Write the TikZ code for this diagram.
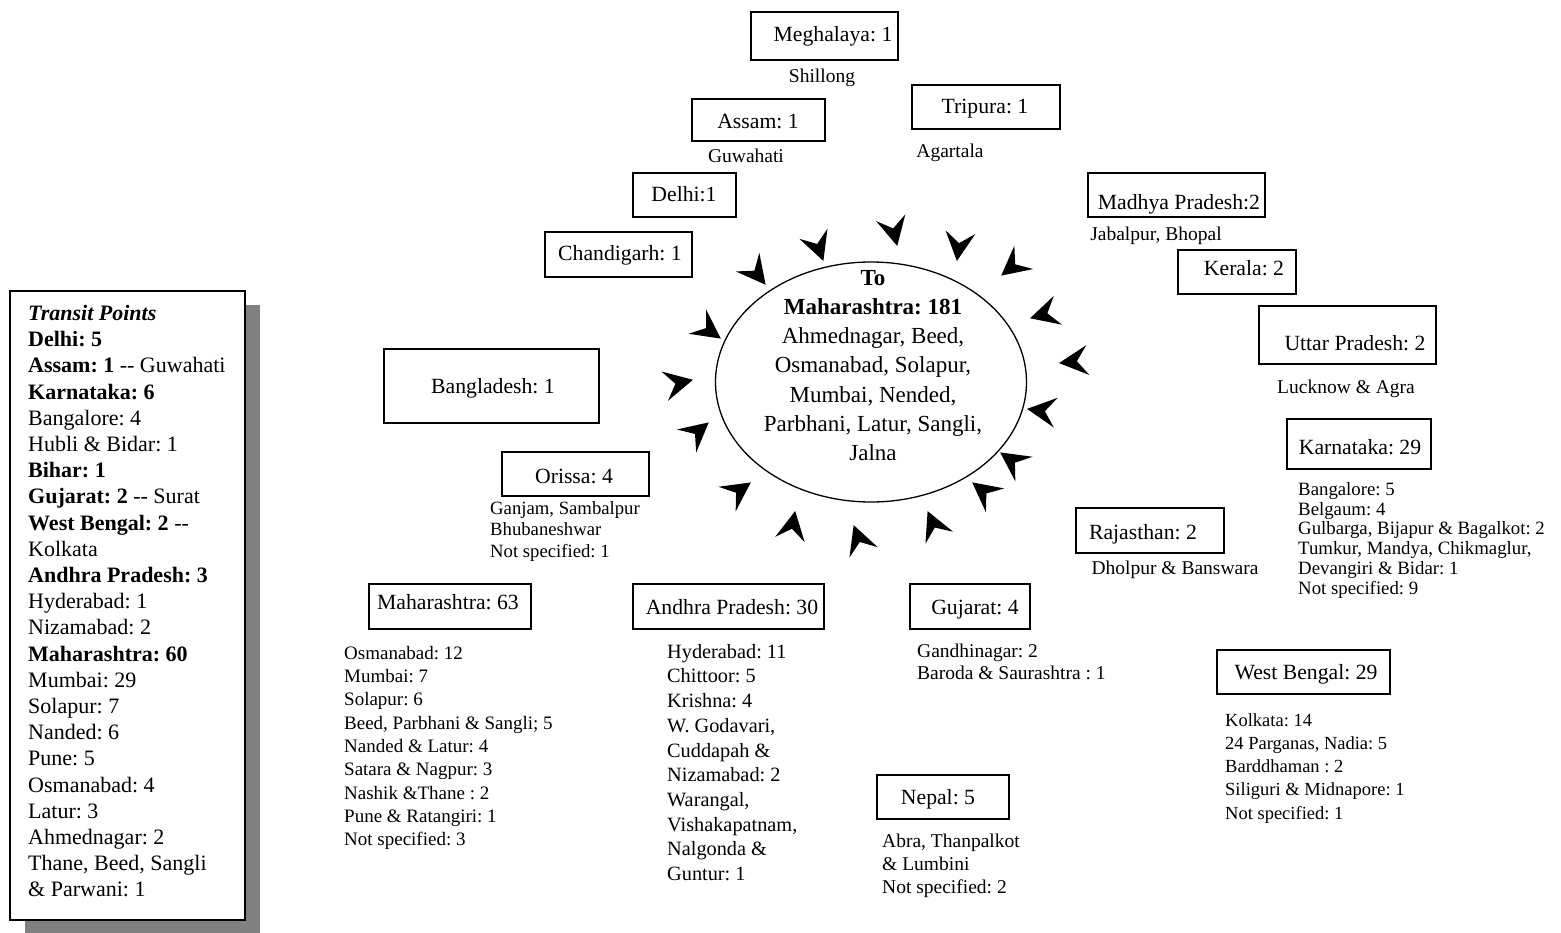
\documentclass[tikz,border=0pt]{standalone}
\usepackage{fontspec}
\setmainfont{Liberation Serif}
\usetikzlibrary{shapes.geometric}
\frenchspacing
\begin{document}
\begin{tikzpicture}[x=1pt,y=-1pt,
  box/.style={draw, line width=1.3pt, rectangle, inner sep=0pt},
  btxt/.style={font=\fontsize{21.7}{26}\selectfont, inner sep=0pt, anchor=base},
  stxt/.style={font=\fontsize{19.5}{23}\selectfont, inner sep=0pt, anchor=base},
  lst/.style={align=left, inner sep=0pt, anchor=north west},
  pics/arrowhd/.style={code={\fill (1pt,0pt) -- (-28pt,15pt) -- (-17pt,0pt) -- (-28pt,-15pt) -- cycle;}}
]
\useasboundingbox (0,0) rectangle (1561,933);

% legend
\node[fill=black!50, minimum width=235pt, minimum height=629pt, inner sep=0pt] (legshadow) at (142.5,619.5) {};
\node[draw, fill=white, line width=1.6pt, minimum width=235pt, minimum height=629pt, inner sep=0pt] (legend) at (127.5,605.5) {};
\node[lst, font=\fontsize{22}{26.2}\selectfont] (legtxt) at (28,305) {\textbf{\textit{Transit Points}}\\
\textbf{Delhi: 5}\\
\textbf{Assam: 1} -{}- Guwahati\\
\textbf{Karnataka: 6}\\
Bangalore: 4\\
Hubli \& Bidar: 1\\
\textbf{Bihar: 1}\\
\textbf{Gujarat: 2} -{}- Surat\\
\textbf{West Bengal: 2} -{}-\\
Kolkata\\
\textbf{Andhra Pradesh: 3}\\
Hyderabad: 1\\
Nizamabad: 2\\
\textbf{Maharashtra: 60}\\
Mumbai: 29\\
Solapur: 7\\
Nanded: 6\\
Pune: 5\\
Osmanabad: 4\\
Latur: 3\\
Ahmednagar: 2\\
Thane, Beed, Sangli\\
\& Parwani: 1};

% destination
\node[draw, ellipse, line width=1.3pt, minimum width=311pt, minimum height=240pt, inner sep=0pt] (dest) at (871,382) {};
\node[align=center, inner sep=0pt, anchor=north, font=\fontsize{23}{29.2}\selectfont] (desttxt) at (873,270) {\textbf{To}\\
\textbf{Maharashtra: 181}\\
Ahmednagar, Beed,\\
Osmanabad, Solapur,\\
Mumbai, Nended,\\
Parbhani, Latur, Sangli,\\
Jalna};

% arrowheads around the destination
\pic[rotate=-51.5] at (765,284) {arrowhd};
\pic[rotate=-70] at (823,260) {arrowhd};
\pic[rotate=-77] at (897,245) {arrowhd};
\pic[rotate=-97] at (957,260) {arrowhd};
\pic[rotate=-141] at (1002,275) {arrowhd};
\pic[rotate=-164] at (1031,318) {arrowhd};
\pic[rotate=-174] at (1060,363) {arrowhd};
\pic[rotate=172.5] at (1028,409) {arrowhd};
\pic[rotate=145] at (1001,453) {arrowhd};
\pic[rotate=142] at (973,483) {arrowhd};
\pic[rotate=113.6] at (928,512) {arrowhd};
\pic[rotate=110] at (854,526) {arrowhd};
\pic[rotate=79.6] at (795,512) {arrowhd};
\pic[rotate=35] at (750,483) {arrowhd};
\pic[rotate=40] at (708,423) {arrowhd};
\pic[rotate=12.7] at (692,380) {arrowhd};
\pic[rotate=-35.8] at (720,338) {arrowhd};

% source boxes
\node[box, minimum width=147pt, minimum height=48pt] (meg) at (824.5,36) {};
\node[btxt] (megt) at (833,42) {Meghalaya: 1};
\node[stxt] (shillong) at (822,82.5) {Shillong};

\node[box, minimum width=133pt, minimum height=42pt] (assam) at (758.5,120) {};
\node[btxt] (assamt) at (758,129) {Assam: 1};
\node[stxt] (guwahati) at (746,162.5) {Guwahati};

\node[box, minimum width=148pt, minimum height=44pt] (tripura) at (986,107) {};
\node[btxt] (tripurat) at (985,114) {Tripura: 1};
\node[stxt] (agartala) at (950,157.5) {Agartala};

\node[box, minimum width=103pt, minimum height=44pt] (delhi) at (684.5,195) {};
\node[btxt] (delhit) at (684,202) {Delhi:1};

\node[box, minimum width=147pt, minimum height=45pt] (chand) at (618.5,254.5) {};
\node[btxt] (chandt) at (620,261) {Chandigarh: 1};

\node[box, minimum width=177pt, minimum height=44pt] (mp) at (1176.5,195) {};
\node[btxt] (mpt) at (1179,210) {Madhya Pradesh:2};
\node[stxt] (jabalpur) at (1156,240.5) {Jabalpur, Bhopal};

\node[box, minimum width=118pt, minimum height=44pt] (kerala) at (1237,272) {};
\node[btxt] (keralat) at (1244,276) {Kerala: 2};

\node[box, minimum width=177pt, minimum height=58pt] (up) at (1347.5,335) {};
\node[btxt] (upt) at (1355,350) {Uttar Pradesh: 2};
\node[stxt] (lucknow) at (1346,393.5) {Lucknow \& Agra};

\node[box, minimum width=215pt, minimum height=74pt] (bang) at (491.5,386) {};
\node[btxt] (bangt) at (493,393) {Bangladesh: 1};

\node[box, minimum width=147pt, minimum height=44pt] (orissa) at (575.5,474) {};
\node[btxt] (orissat) at (574,483) {Orissa: 4};
\node[lst, font=\fontsize{18.7}{21.5}\selectfont] (orlist) at (490,501) {Ganjam, Sambalpur\\ Bhubaneshwar\\ Not specified: 1};

\node[box, minimum width=162pt, minimum height=45pt] (maha) at (450,606.5) {};
\node[btxt] (mahat) at (448,609) {Maharashtra: 63};
\node[lst, font=\fontsize{19}{23.3}\selectfont] (mahalist) at (344,646) {Osmanabad: 12\\ Mumbai: 7\\ Solapur: 6\\ Beed, Parbhani \& Sangli; 5\\ Nanded \& Latur: 4\\ Satara \& Nagpur: 3\\ Nashik \&Thane : 2\\ Pune \& Ratangiri: 1\\ Not specified: 3};

\node[box, minimum width=191pt, minimum height=45pt] (ap) at (728.5,606.5) {};
\node[btxt] (apt) at (732,614) {Andhra Pradesh: 30};
\node[lst, font=\fontsize{20.3}{24.7}\selectfont] (aplist) at (667,644) {Hyderabad: 11\\ Chittoor: 5\\ Krishna: 4\\ W. Godavari,\\ Cuddapah \&\\ Nizamabad: 2\\ Warangal,\\ Vishakapatnam,\\ Nalgonda \&\\ Guntur: 1};

\node[box, minimum width=120pt, minimum height=45pt] (guj) at (970,606.5) {};
\node[btxt] (gujt) at (975,614) {Gujarat: 4};
\node[lst, font=\fontsize{19.5}{21.5}\selectfont] (gujlist) at (917,644) {Gandhinagar: 2\\ Baroda \& Saurashtra : 1};

\node[box, minimum width=132pt, minimum height=44pt] (nepal) at (943,797) {};
\node[btxt] (nepalt) at (938,804) {Nepal: 5};
\node[lst, font=\fontsize{19.5}{23}\selectfont] (nepallist) at (882,834) {Abra, Thanpalkot\\ \& Lumbini\\ Not specified: 2};

\node[box, minimum width=144pt, minimum height=50pt] (karn) at (1359,444) {};
\node[btxt] (karnt) at (1360,454) {Karnataka: 29};
\node[lst, font=\fontsize{18.8}{19.8}\selectfont] (karnlist) at (1298,482) {Bangalore: 5\\ Belgaum: 4\\ Gulbarga, Bijapur \& Bagalkot: 2\\ Tumkur, Mandya, Chikmaglur,\\ Devangiri \& Bidar: 1\\ Not specified: 9};

\node[box, minimum width=148pt, minimum height=45pt] (raj) at (1150,530.5) {};
\node[btxt] (rajt) at (1143,539) {Rajasthan: 2};
\node[stxt] (dholpur) at (1175,574.5) {Dholpur \& Banswara};

\node[box, minimum width=173pt, minimum height=44pt] (wb) at (1303.5,672) {};
\node[btxt] (wbt) at (1306,679) {West Bengal: 29};
\node[lst, font=\fontsize{18.5}{23.3}\selectfont] (wblist) at (1225,713) {Kolkata: 14\\ 24 Parganas, Nadia: 5\\ Barddhaman : 2\\ Siliguri \& Midnapore: 1\\ Not specified: 1};
\end{tikzpicture}
\end{document}
